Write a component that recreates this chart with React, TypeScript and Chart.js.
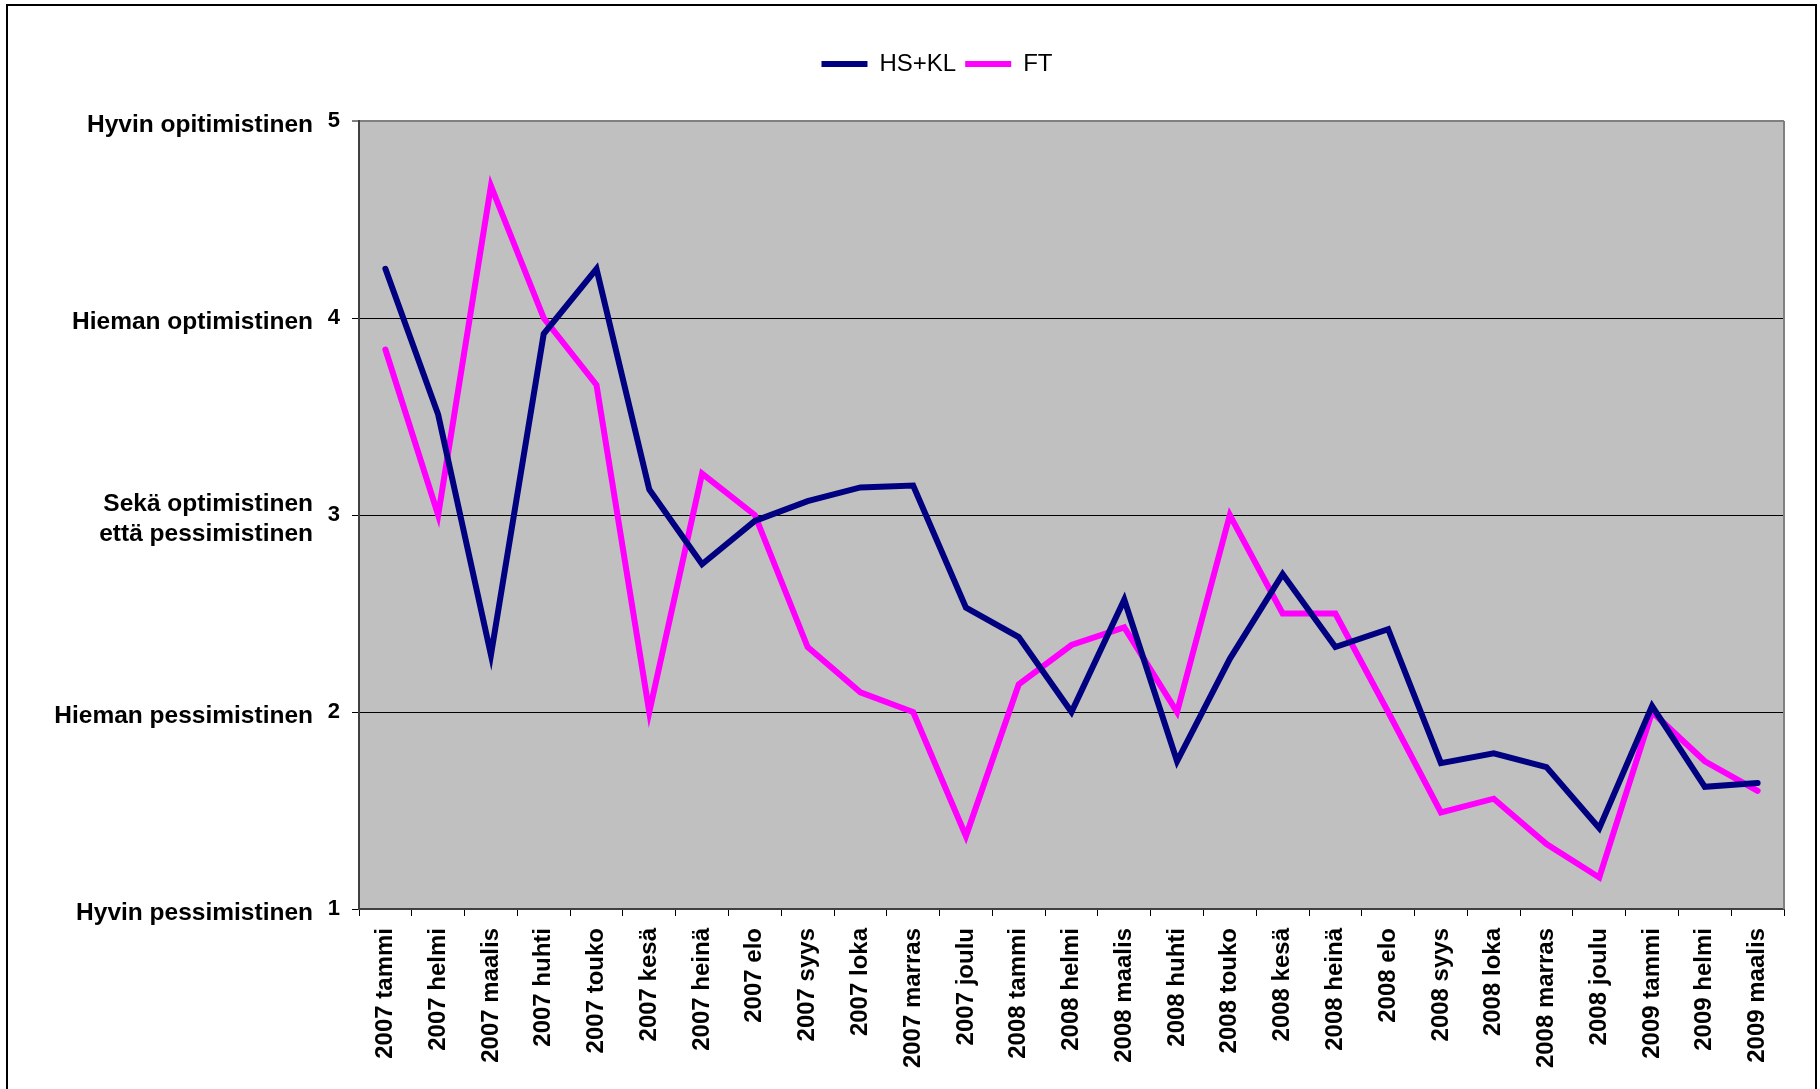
import React, { useEffect, useRef } from "react";
import { Chart, registerables } from "chart.js";

Chart.register(...registerables);

const FONT = "'Liberation Sans', Arial, Helvetica, sans-serif";

const categories = [
  "2007 tammi", "2007 helmi", "2007 maalis", "2007 huhti", "2007 touko", "2007 kesä",
  "2007 heinä", "2007 elo", "2007 syys", "2007 loka", "2007 marras", "2007 joulu",
  "2008 tammi", "2008 helmi", "2008 maalis", "2008 huhti", "2008 touko", "2008 kesä",
  "2008 heinä", "2008 elo", "2008 syys", "2008 loka", "2008 marras", "2008 joulu",
  "2009 tammi", "2009 helmi", "2009 maalis",
];

const seriesNames = ["HS+KL", "FT"];

const hsklValues = [
  4.25, 3.51, 2.29, 3.92, 4.25, 3.13, 2.75, 2.97, 3.07, 3.14, 3.15, 2.53,
  2.38, 2.0, 2.57, 1.75, 2.27, 2.7, 2.33, 2.42, 1.74, 1.79, 1.72, 1.41,
  2.03, 1.62, 1.64,
];

const ftValues = [
  3.84, 3.0, 4.67, 4.0, 3.66, 2.0, 3.21, 3.0, 2.33, 2.1, 2.0, 1.37,
  2.14, 2.34, 2.43, 2.0, 3.0, 2.5, 2.5, 2.0, 1.49, 1.56, 1.33, 1.16,
  2.0, 1.75, 1.6,
];

const yMin = 1;
const yMax = 5;
const yStep = 1;

const yLevelValues = [5, 4, 3, 2, 1];
const yLevelLabels = [
  ["Hyvin opitimistinen"],
  ["Hieman optimistinen"],
  ["Sekä optimistinen", "että pessimistinen"],
  ["Hieman pessimistinen"],
  ["Hyvin pessimistinen"],
];

const seriesColors = ["#000080", "#FF00FF"];

const plotBackgroundPlugin = {
  id: "plotBackground",
  beforeDraw(chart: any) {
    const { ctx, chartArea } = chart;
    if (!chartArea) return;
    ctx.save();
    ctx.fillStyle = "#C0C0C0";
    ctx.fillRect(chartArea.left, chartArea.top, chartArea.right - chartArea.left, chartArea.bottom - chartArea.top);
    ctx.restore();
  },
  beforeDatasetsDraw(chart: any) {
    const { ctx, chartArea } = chart;
    ctx.save();
    ctx.strokeStyle = "#808080";
    ctx.lineWidth = 2;
    ctx.beginPath();
    ctx.moveTo(chartArea.right, chartArea.top);
    ctx.lineTo(chartArea.right, chartArea.bottom);
    ctx.stroke();
    ctx.restore();
  },
};

const yLevelLabelPlugin = {
  id: "yLevelLabels",
  afterDraw(chart: any) {
    const { ctx, chartArea } = chart;
    const yScale = chart.scales.y;
    ctx.save();
    ctx.font = `bold 24.5px ${FONT}`;
    ctx.fillStyle = "#000";
    ctx.textAlign = "right";
    ctx.textBaseline = "middle";
    const x = chartArea.left - 46;
    yLevelValues.forEach((v, i) => {
      const lines = yLevelLabels[i];
      const py = yScale.getPixelForValue(v);
      const start = py + 4 - ((lines.length - 1) * 30) / 2;
      lines.forEach((line, j) => {
        ctx.fillText(line, x, start + j * 30);
      });
    });
    ctx.restore();
  },
};

export default function App() {
  const canvasRef = useRef<HTMLCanvasElement | null>(null);

  useEffect(() => {
    document.body.style.overflow = "hidden";
    const canvas = canvasRef.current;
    if (!canvas) return;
    Chart.defaults.font.family = FONT;
    const chart = new Chart(canvas, {
      type: "line",
      data: {
        labels: categories,
        datasets: [
          {
            label: seriesNames[0],
            data: hsklValues,
            borderColor: seriesColors[0],
            backgroundColor: seriesColors[0],
            borderWidth: 6,
            pointRadius: 0,
            tension: 0,
            borderCapStyle: "round",
          },
          {
            label: seriesNames[1],
            data: ftValues,
            borderColor: seriesColors[1],
            backgroundColor: seriesColors[1],
            borderWidth: 6,
            pointRadius: 0,
            tension: 0,
            borderCapStyle: "round",
          },
        ],
      },
      options: {
        responsive: false,
        maintainAspectRatio: false,
        animation: false,
        events: [],
        layout: { padding: { top: 43, left: 90, right: 36, bottom: 0 } },
        plugins: {
          legend: {
            display: true,
            position: "top",
            labels: {
              boxWidth: 46,
              boxHeight: 0,
              padding: 9,
              color: "#000",
              font: { family: FONT, size: 24 },
            },
          },
          title: {
            display: true,
            text: "",
            weight: 500,
            font: { size: 1, lineHeight: 1 },
            padding: { top: 0, bottom: 34 },
          },
          tooltip: { enabled: false },
        },
        scales: {
          x: {
            type: "category",
            offset: true,
            grid: {
              offset: true,
              drawOnChartArea: false,
              drawTicks: true,
              tickLength: 7,
              color: "#000",
              lineWidth: 1,
            },
            border: { color: "#404040", width: 2 },
            ticks: {
              autoSkip: false,
              maxRotation: 90,
              minRotation: 90,
              padding: 12,
              color: "#000",
              font: { family: FONT, size: 24, weight: "bold" },
            },
            afterFit: (scale: any) => {
              scale.height = 180;
            },
          },
          y: {
            min: yMin,
            max: yMax,
            ticks: {
              stepSize: yStep,
              padding: 12,
              color: "#000",
              font: { family: FONT, size: 22, weight: "bold" },
            },
            grid: {
              color: (ctx: any) => (ctx.tick && ctx.tick.value === yMax ? "#808080" : "#000"),
              lineWidth: (ctx: any) => (ctx.tick && ctx.tick.value === yMax ? 2 : 1),
              tickLength: 7,
              drawTicks: true,
            },
            border: { color: "#404040", width: 2 },
            afterFit: (scale: any) => {
              scale.width = 269;
            },
          },
        },
      },
      plugins: [plotBackgroundPlugin, yLevelLabelPlugin],
    } as any);
    return () => chart.destroy();
  }, []);

  return (
    <div
      style={{
        position: "absolute",
        left: 0,
        top: 0,
        width: 1820,
        height: 1089,
        overflow: "hidden",
        background: "#fff",
      }}
    >
      <div
        style={{
          position: "absolute",
          left: 6,
          top: 4,
          width: 1811,
          height: 1200,
          border: "2px solid #000",
          boxSizing: "border-box",
        }}
      />
      <canvas
        ref={canvasRef}
        width={1820}
        height={1089}
        style={{ position: "absolute", left: 0, top: 0, width: 1820, height: 1089 }}
      />
    </div>
  );
}
